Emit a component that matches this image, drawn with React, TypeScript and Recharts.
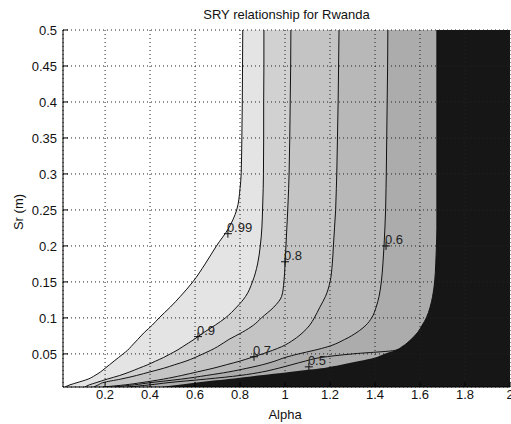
import { ComposedChart, Area, Line, Scatter, XAxis, YAxis, CartesianGrid } from 'recharts';

// Sr (m) sample points and the Alpha value of each contour at those points
const srValues = [0.004, 0.007, 0.01, 0.015, 0.02, 0.025, 0.03, 0.035, 0.04, 0.045, 0.05, 0.055, 0.06, 0.07, 0.08, 0.09, 0.1, 0.115, 0.13, 0.15, 0.175, 0.2, 0.225, 0.25, 0.28, 0.3, 0.35, 0.4, 0.45, 0.5];
const c099 = [0.022, 0.044, 0.075, 0.125, 0.155, 0.18, 0.2, 0.22, 0.24, 0.26, 0.28, 0.3, 0.315, 0.345, 0.375, 0.41, 0.44, 0.49, 0.535, 0.59, 0.645, 0.695, 0.75, 0.785, 0.8, 0.805, 0.808, 0.81, 0.811, 0.812];
const c09 = [0.11, 0.13, 0.16, 0.21, 0.265, 0.31, 0.35, 0.39, 0.425, 0.46, 0.49, 0.52, 0.545, 0.595, 0.64, 0.69, 0.735, 0.785, 0.825, 0.855, 0.878, 0.89, 0.897, 0.9, 0.903, 0.904, 0.905, 0.905, 0.906, 0.906];
const c08 = [0.15, 0.17, 0.19, 0.27, 0.34, 0.4, 0.46, 0.51, 0.56, 0.6, 0.635, 0.67, 0.7, 0.75, 0.81, 0.86, 0.895, 0.95, 0.985, 0.995, 1.0, 1.004, 1.008, 1.012, 1.016, 1.018, 1.021, 1.023, 1.025, 1.026];
const c07 = [0.19, 0.29, 0.36, 0.46, 0.54, 0.61, 0.68, 0.74, 0.8, 0.85, 0.9, 0.945, 0.985, 1.04, 1.08, 1.11, 1.13, 1.155, 1.18, 1.2, 1.21, 1.215, 1.22, 1.225, 1.228, 1.23, 1.233, 1.236, 1.238, 1.24];
const c06 = [0.24, 0.33, 0.4, 0.54, 0.65, 0.75, 0.83, 0.9, 0.955, 1.0, 1.06, 1.13, 1.19, 1.265, 1.32, 1.36, 1.385, 1.405, 1.418, 1.428, 1.435, 1.44, 1.444, 1.447, 1.449, 1.45, 1.452, 1.454, 1.456, 1.457];
const c05 = [0.3, 0.4, 0.48, 0.65, 0.8, 0.9, 0.97, 1.03, 1.09, 1.16, 1.3, 1.49, 1.52, 1.56, 1.59, 1.61, 1.628, 1.645, 1.656, 1.665, 1.67, 1.673, 1.675, 1.675, 1.675, 1.675, 1.675, 1.675, 1.675, 1.675];
const edge = [0.45, 0.53, 0.6, 0.75, 0.88, 1.02, 1.16, 1.25, 1.33, 1.4, 1.44, 1.49, 1.52, 1.56, 1.59, 1.61, 1.628, 1.645, 1.656, 1.665, 1.67, 1.673, 1.675, 1.675, 1.675, 1.675, 1.675, 1.675, 1.675, 1.675];

// contour labels (clabel style, + marker)
const labelText = ['0.99', '0.9', '0.8', '0.7', '0.6', '0.5'];
const labelAlpha = [0.746, 0.613, 1.0, 0.862, 1.449, 1.106];
const labelSr = [0.217, 0.074, 0.178, 0.046, 0.2, 0.032];

const xTicks = [0.2, 0.4, 0.6, 0.8, 1, 1.2, 1.4, 1.6, 1.8, 2];
const yTicks = [0.05, 0.1, 0.15, 0.2, 0.25, 0.3, 0.35, 0.4, 0.45, 0.5];

const data = srValues.map((sr, i) => ({
  sr,
  c099: c099[i],
  c09: c09[i],
  c08: c08[i],
  c07: c07[i],
  c06: c06[i],
  c05: c05[i],
  edge: edge[i],
}));

const labels = labelText.map((text, i) => ({ text, alpha: labelAlpha[i], sr: labelSr[i] }));

const FONT = '"Liberation Sans", Arial, Helvetica, sans-serif';
const tickStyle = { fontSize: 13, fill: '#111', fontFamily: FONT };

const ContourLabel = (props: any) => {
  const { cx, cy, payload } = props;
  if (cx == null || cy == null) return null;
  return (
    <g>
      <path d={`M${cx - 4},${cy}H${cx + 4}M${cx},${cy - 4}V${cy + 4}`} stroke="#111" strokeWidth={1} />
      <text x={cx - 1} y={cy - 2} fontSize={13} fill="#222" fontFamily={FONT}>
        {payload.text}
      </text>
    </g>
  );
};

export default function App() {
  return (
    <div style={{ position: 'absolute', left: 0, top: 0, width: 511, height: 424, overflow: 'hidden', background: '#fff' }}>
      <div style={{ position: 'absolute', left: 63, width: 447, top: 7, textAlign: 'center', fontSize: 13, lineHeight: '15px', fontFamily: FONT, color: '#111' }}>
        SRY relationship for Rwanda
      </div>
      <div style={{ position: 'absolute', left: 18, top: 212, transform: 'translate(-50%, -50%) rotate(-90deg)', fontSize: 13, lineHeight: '15px', fontFamily: FONT, color: '#111', whiteSpace: 'nowrap' }}>
        Sr (m)
      </div>
      <div style={{ position: 'absolute', left: 235, width: 100, top: 407, textAlign: 'center', fontSize: 13, lineHeight: '15px', fontFamily: FONT, color: '#111' }}>
        Alpha
      </div>
      <ComposedChart
        width={520}
        height={424}
        data={data}
        layout="vertical"
        margin={{ top: 30, right: 10, bottom: 0, left: 0 }}
      >
        <CartesianGrid horizontal={false} vertical={false} fill="#161616" fillOpacity={1} />
        <XAxis
          type="number"
          domain={[0.013, 2]}
          ticks={xTicks}
          allowDataOverflow
          height={37}
          tickSize={-5}
          tickMargin={8}
          tick={tickStyle}
          stroke="#000"
        />
        <XAxis
          xAxisId="top"
          orientation="top"
          type="number"
          domain={[0.013, 2]}
          ticks={xTicks}
          allowDataOverflow
          height={0}
          tickSize={-5}
          tick={false}
          stroke="#000"
        />
        <YAxis
          type="number"
          dataKey="sr"
          domain={[0.004, 0.5]}
          ticks={yTicks}
          reversed
          allowDataOverflow
          width={63}
          tickSize={-5}
          tickMargin={11}
          tick={tickStyle}
          stroke="#000"
        />
        <YAxis
          yAxisId="right"
          orientation="right"
          type="number"
          dataKey="sr"
          domain={[0.004, 0.5]}
          ticks={yTicks}
          reversed
          allowDataOverflow
          width={0}
          tickSize={-5}
          tick={false}
          stroke="#000"
        />
        <Area dataKey="edge" type="monotone" baseValue="dataMin" fill="#acacac" fillOpacity={1} stroke="none" isAnimationActive={false} />
        <Area dataKey="c06" type="monotone" baseValue="dataMin" fill="#b8b8b8" fillOpacity={1} stroke="#111" strokeWidth={1} isAnimationActive={false} />
        <Area dataKey="c07" type="monotone" baseValue="dataMin" fill="#c4c4c4" fillOpacity={1} stroke="#111" strokeWidth={1} isAnimationActive={false} />
        <Area dataKey="c08" type="monotone" baseValue="dataMin" fill="#d1d1d1" fillOpacity={1} stroke="#111" strokeWidth={1} isAnimationActive={false} />
        <Area dataKey="c09" type="monotone" baseValue="dataMin" fill="#e4e4e4" fillOpacity={1} stroke="#111" strokeWidth={1} isAnimationActive={false} />
        <Area dataKey="c099" type="monotone" baseValue="dataMin" fill="#ffffff" fillOpacity={1} stroke="#111" strokeWidth={1} isAnimationActive={false} />
        <Line dataKey="c05" type="monotone" stroke="#111" strokeWidth={1} dot={false} isAnimationActive={false} />
        <CartesianGrid stroke="#222" strokeDasharray="1 3" zIndex={300} />
        <Scatter data={labels} dataKey="alpha" shape={ContourLabel} isAnimationActive={false} />
      </ComposedChart>
    </div>
  );
}
